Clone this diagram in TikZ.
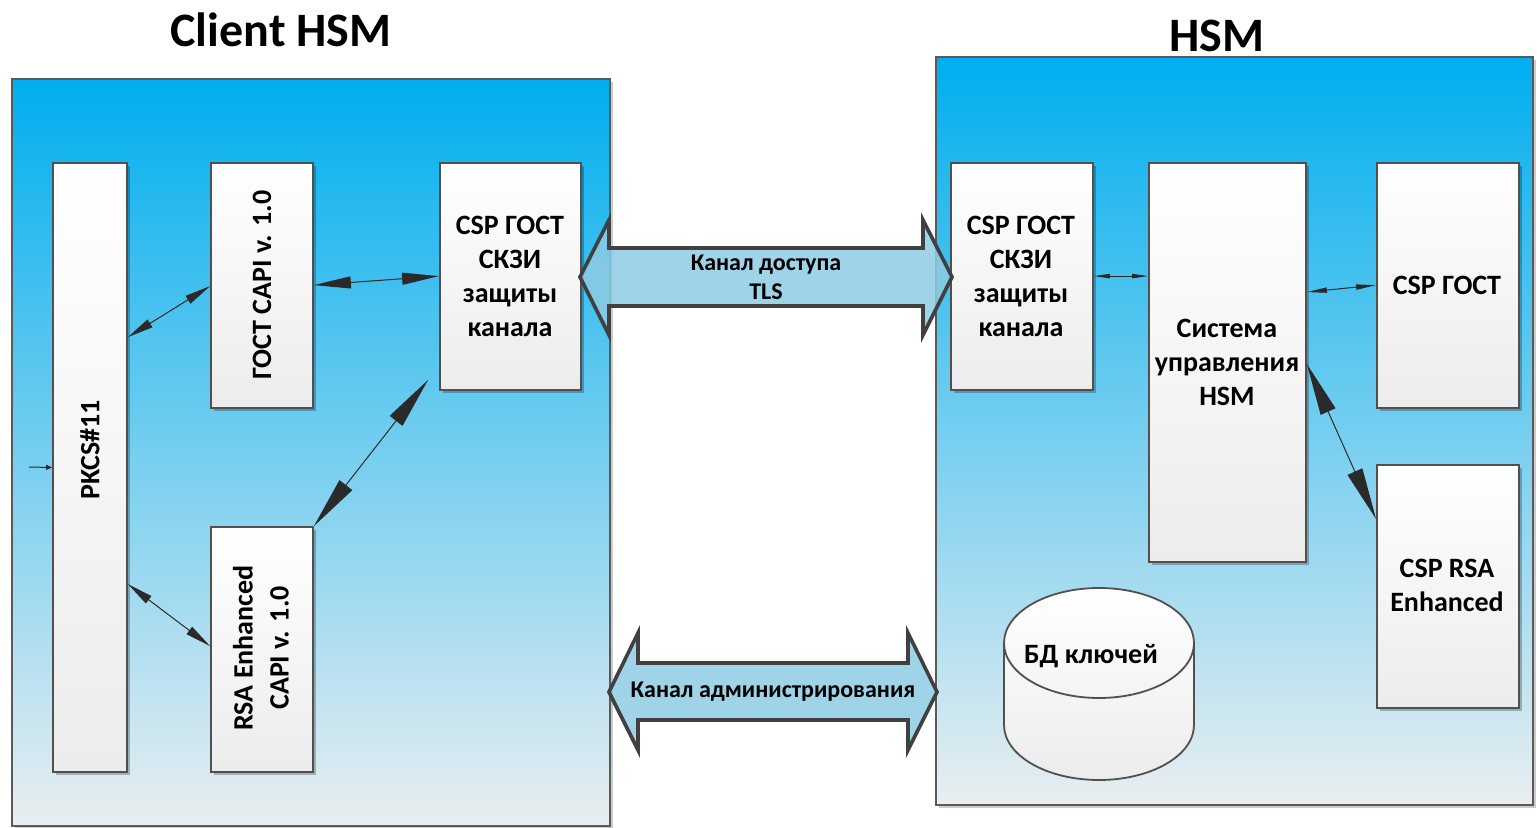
\documentclass[tikz,border=0pt]{standalone}
\usepackage{fontspec}
\setmainfont{Carlito}
\usetikzlibrary{arrows.meta,shadows}
\definecolor{panelTop}{HTML}{00AEEF}
\definecolor{panelBot}{HTML}{EAEEF0}
\definecolor{panelEdge}{HTML}{5A5A5A}
\definecolor{boxEdge}{HTML}{505050}
\definecolor{boxBot}{HTML}{ECECEC}
\definecolor{connCol}{HTML}{2A2A2A}
\definecolor{bigFill}{HTML}{8ECBE3}
\definecolor{bigEdge}{HTML}{404040}
\begin{document}
\begin{tikzpicture}[x=0.5pt,y=-0.5pt,
  panel/.style={draw=panelEdge, line width=0.8pt, top color=panelTop, bottom color=panelBot, inner sep=0pt,
    drop shadow={shadow xshift=1.5pt, shadow yshift=-1.5pt, opacity=0.2, fill=black}},
  box/.style={draw=boxEdge, line width=0.9pt, top color=white, bottom color=boxBot, inner sep=0pt,
    drop shadow={shadow xshift=1.5pt, shadow yshift=-1.5pt, opacity=0.25, fill=black}},
  lbl/.style={font=\fontsize{14}{17}\selectfont\bfseries, align=center, text=black, inner sep=0pt},
  albl/.style={font=\fontsize{12}{14.5}\selectfont\bfseries, align=center, text=black, inner sep=0pt},
  ttl/.style={font=\fontsize{24}{28}\selectfont\bfseries, text=black, inner sep=0pt},
  conn/.style={draw=connCol, line width=0.5pt},
  bigarr/.style={arrows={Triangle[length=26pt,width=8pt]-Triangle[length=26pt,width=8pt]}},
  medarr/.style={arrows={Triangle[length=18.5pt,width=6pt]-Triangle[length=18.5pt,width=6pt]}},
  smallarr/.style={arrows={Triangle[length=13pt,width=4.5pt]-Triangle[length=13pt,width=4.5pt]}},
  tinyarr/.style={arrows={Triangle[length=8pt,width=2.2pt]-Triangle[length=8pt,width=2.2pt]}},
  tinyarrb/.style={arrows={Triangle[length=10pt,width=2.6pt]-Triangle[length=10pt,width=2.6pt]}},
  blockarr/.style={draw=bigEdge, line width=1.8pt, line join=miter, fill=bigFill, fill opacity=0.85}
]
\useasboundingbox (0,0) rectangle (1537,828);

% titles
\node[ttl] (t1) at (281,30) {Client HSM};
\node[ttl] (t2) at (1217,36) {HSM};

% panels
\node[panel, minimum width=299pt, minimum height=373.5pt] (client) at (311,452.5) {};
\node[panel, minimum width=298.5pt, minimum height=374pt] (hsm) at (1234.5,431) {};

% client boxes
\node[box, minimum width=37pt, minimum height=304.5pt] (pk) at (90,467.5) {};
\node[lbl, rotate=90] (pkt) at (90,450) {PKCS\#11};
\node[box, minimum width=51pt, minimum height=122.5pt] (gc) at (262,285.5) {};
\node[lbl, rotate=90] (gct) at (262,285) {ГОСТ CAPI v. 1.0};
\node[box, minimum width=51pt, minimum height=122.5pt] (rsa) at (262,649.5) {};
\node[lbl, rotate=90, font=\fontsize{14}{18}\selectfont\bfseries] (rsat) at (261,648) {RSA Enhanced\\CAPI v. 1.0};
\node[box, minimum width=70.5pt, minimum height=113.5pt] (cspL) at (510.5,276.5) {};
\node[lbl] (cspLt) at (510,276) {CSP ГОСТ\\СКЗИ\\защиты\\канала};

% hsm boxes
\node[box, minimum width=71pt, minimum height=113.5pt] (cspR) at (1022,276.5) {};
\node[lbl] (cspRt) at (1021,276) {CSP ГОСТ\\СКЗИ\\защиты\\канала};
\node[box, minimum width=78.5pt, minimum height=199.5pt] (sys) at (1227.5,362.5) {};
\node[lbl] (syst) at (1227,362) {Система\\управления\\HSM};
\node[box, minimum width=71pt, minimum height=122.5pt] (cg) at (1448,285.5) {};
\node[lbl] (cgt) at (1447,285) {CSP ГОСТ};
\node[box, minimum width=71pt, minimum height=121.5pt] (cr) at (1448,586.5) {};
\node[lbl] (crt) at (1447,585) {CSP RSA\\Enhanced};

% database cylinder
\path[draw=boxEdge, line width=0.9pt, top color=white, bottom color=boxBot]
  (1004,643) -- (1004,725) arc[start angle=180, end angle=360, x radius=47.5pt, y radius=27.5pt]
  -- (1194,643) arc[start angle=0, end angle=180, x radius=47.5pt, y radius=27.5pt] -- cycle;
\draw[draw=boxEdge, line width=0.9pt] (1004,643) arc[start angle=180, end angle=360, x radius=47.5pt, y radius=27.5pt];
\node[lbl] (db) at (1091,656) {БД ключей};

% connectors
\coordinate (stub) at (29,467);
\draw[conn, -{Triangle[length=3pt,width=2.5pt]}] (stub) -- (pk.west);
\draw[conn, smallarr] ([yshift=-87.5pt]pk.north east) -- ([yshift=-62pt]gc.north west);
\draw[conn, smallarr] ([yshift=-211pt]pk.north east) -- ([yshift=-60pt]rsa.north west);
\draw[conn, medarr] ([yshift=-61.5pt]gc.north east) -- ([yshift=-57pt]cspL.north west);
\draw[conn, bigarr] (rsa.north east) -- ([xshift=-5.5pt,yshift=5.5pt]cspL.south west);
\draw[conn, tinyarr] ([yshift=-57pt]cspR.north east) -- ([yshift=-57pt]sys.north west);
\draw[conn, tinyarrb] ([yshift=-65pt]sys.north east) -- ([yshift=-61.5pt]cg.north west);
\draw[conn, bigarr] ([yshift=-101pt]sys.north east) -- ([yshift=-27.5pt]cr.north west);

% block arrows
\draw[blockarr] (580,277) -- (609,220) -- (609,248) -- (923,248) -- (923,220) -- (952,277)
  -- (923,335) -- (923,306) -- (609,306) -- (609,335) -- cycle;
\node[albl] (tls) at (766,277) {Канал доступа\\TLS};
\draw[blockarr] (609,692) -- (638,633) -- (638,663) -- (908,663) -- (908,633) -- (937,692)
  -- (908,750) -- (908,720) -- (638,720) -- (638,750) -- cycle;
\node[albl] (adm) at (773,692) {Канал администрирования};
\end{tikzpicture}
\end{document}
